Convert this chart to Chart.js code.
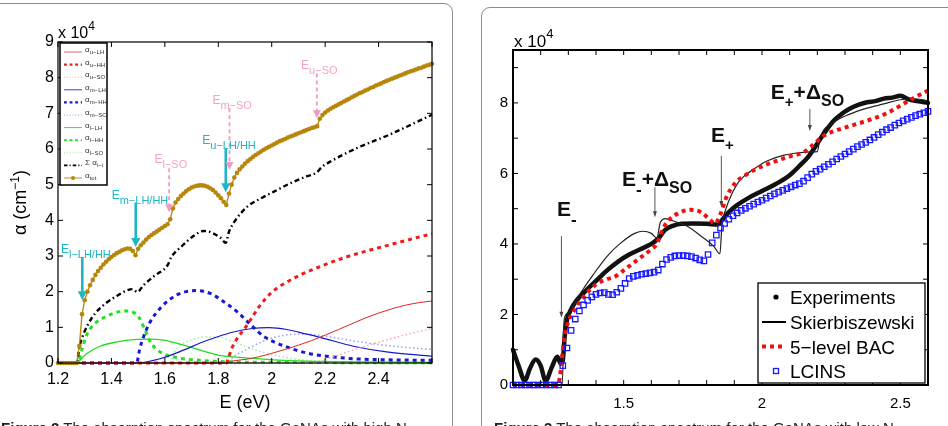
<!DOCTYPE html>
<html>
<head>
<meta charset="utf-8">
<script src="https://cdn.jsdelivr.net/npm/chart.js@4.4.1/dist/chart.umd.min.js"></script>
<style>
body { margin: 0; width: 948px; height: 426px; overflow: hidden; background: #fff; position: relative; font-family: "Liberation Sans", Arial, sans-serif; }
.box { position: absolute; border: 1px solid #8c8c8c; border-radius: 9px; background: #fff; }
#boxL { left: -20px; top: 3px; width: 471px; height: 520px; }
#boxR { left: 481px; top: 7px; width: 500px; height: 520px; }
canvas { position: absolute; top: 0; }
#chartL { left: 0; }
#chartR { left: 474px; }
.cap { position: absolute; top: 419px; font-size: 15px; line-height: 17px; white-space: nowrap; color: #222; }
</style>
</head>
<body>
<div class="box" id="boxL"></div>
<div class="box" id="boxR"></div>
<canvas id="chartL" width="460" height="426"></canvas>
<canvas id="chartR" width="474" height="426"></canvas>
<div class="cap" style="left:1px"><b>Figure 2</b> The absorption spectrum for the GaNAs with high N</div>
<div class="cap" style="left:494px"><b>Figure 3</b> The absorption spectrum for the GaNAs with low N</div>
<script>
const fontFam = '"Liberation Sans", Arial, sans-serif'

// ---------- left panel: absorption (x 10^4 cm^-1) vs E (eV) ----------
const eTot = [
  1.20, 1.21, 1.22, 1.23, 1.24, 1.25, 1.26, 1.27, 1.28, 1.29,
  1.30, 1.31, 1.32, 1.33, 1.34, 1.35, 1.36, 1.37, 1.38, 1.39,
  1.40, 1.41, 1.42, 1.43, 1.44, 1.45, 1.46, 1.47, 1.48, 1.49,
  1.50, 1.51, 1.52, 1.53, 1.54, 1.55, 1.56, 1.57, 1.58, 1.59,
  1.60, 1.61, 1.62, 1.63, 1.64, 1.65, 1.66, 1.67, 1.68, 1.69,
  1.70, 1.71, 1.72, 1.73, 1.74, 1.75, 1.76, 1.77, 1.78, 1.79,
  1.80, 1.81, 1.82, 1.83, 1.84, 1.85, 1.86, 1.87, 1.88, 1.89,
  1.90, 1.91, 1.92, 1.93, 1.94, 1.95, 1.96, 1.97, 1.98, 1.99,
  2.00, 2.01, 2.02, 2.03, 2.04, 2.05, 2.06, 2.07, 2.08, 2.09,
  2.10, 2.11, 2.12, 2.13, 2.14, 2.15, 2.16, 2.17, 2.18, 2.19,
  2.20, 2.21, 2.22, 2.23, 2.24, 2.25, 2.26, 2.27, 2.28, 2.29,
  2.30, 2.31, 2.32, 2.33, 2.34, 2.35, 2.36, 2.37, 2.38, 2.39,
  2.40, 2.41, 2.42, 2.43, 2.44, 2.45, 2.46, 2.47, 2.48, 2.49,
  2.50, 2.51, 2.52, 2.53, 2.54, 2.55, 2.56, 2.57, 2.58, 2.59,
  2.60]
const aTot = [
  0, 0, 0, 0, 0, 0, 0, 0, 0.48, 1.37,
  1.76, 2.0, 2.18, 2.33, 2.47, 2.58, 2.67, 2.76, 2.84, 2.91,
  2.97, 3.03, 3.08, 3.12, 3.16, 3.19, 3.21, 3.2, 3.14, 3.02,
  3.2, 3.3, 3.38, 3.46, 3.53, 3.59, 3.64, 3.69, 3.74, 3.79,
  3.84, 3.89, 4.03, 4.33, 4.5, 4.6, 4.68, 4.75, 4.82, 4.87,
  4.92, 4.95, 4.97, 4.98, 4.98, 4.97, 4.94, 4.9, 4.85, 4.78,
  4.7, 4.62, 4.52, 4.43, 4.75, 5.0, 5.2, 5.33, 5.43, 5.51,
  5.59, 5.66, 5.72, 5.78, 5.83, 5.88, 5.93, 5.98, 6.02, 6.06,
  6.1, 6.14, 6.18, 6.22, 6.25, 6.28, 6.32, 6.35, 6.38, 6.41,
  6.44, 6.47, 6.5, 6.53, 6.56, 6.59, 6.61, 6.64, 6.85, 6.95,
  7.02, 7.08, 7.13, 7.17, 7.21, 7.25, 7.29, 7.33, 7.37, 7.41,
  7.45, 7.49, 7.53, 7.57, 7.6, 7.64, 7.67, 7.71, 7.74, 7.78,
  7.81, 7.84, 7.88, 7.91, 7.94, 7.97, 8.0, 8.03, 8.06, 8.09,
  8.12, 8.15, 8.18, 8.2, 8.23, 8.26, 8.28, 8.31, 8.34, 8.36,
  8.39]

const eSum = [1.20, 1.27, 1.28, 1.29, 1.31, 1.34, 1.38, 1.42, 1.46, 1.48, 1.497, 1.52, 1.56, 1.61, 1.625, 1.66, 1.70, 1.745, 1.77, 1.81, 1.828, 1.84, 1.87, 1.91, 1.96, 2.01, 2.07, 2.13, 2.168, 2.19, 2.22, 2.32, 2.44, 2.60]
const aSum = [0, 0, 0.45, 0.7, 1.05, 1.4, 1.68, 1.88, 2.04, 2.07, 1.99, 2.18, 2.44, 2.74, 2.98, 3.25, 3.52, 3.7, 3.67, 3.5, 3.37, 3.68, 4.06, 4.39, 4.62, 4.81, 5.04, 5.23, 5.34, 5.51, 5.65, 6.03, 6.4, 6.96]

const eULH = [1.20, 1.83, 1.85, 1.90, 1.95, 2.00, 2.05, 2.10, 2.15, 2.20, 2.25, 2.30, 2.35, 2.40, 2.45, 2.50, 2.55, 2.60]
const aULH = [0, 0, 0.05, 0.1, 0.17, 0.27, 0.38, 0.5, 0.63, 0.78, 0.94, 1.1, 1.26, 1.4, 1.52, 1.62, 1.69, 1.74]
const eUHH = [1.20, 1.83, 1.838, 1.85, 1.87, 1.90, 1.92, 1.95, 2.00, 2.05, 2.10, 2.15, 2.20, 2.25, 2.30, 2.35, 2.40, 2.45, 2.50, 2.55, 2.60]
const aUHH = [0, 0, 0.15, 0.4, 0.68, 0.98, 1.2, 1.55, 1.98, 2.24, 2.44, 2.61, 2.76, 2.9, 3.02, 3.13, 3.23, 3.33, 3.43, 3.53, 3.62]
const eUSO = [1.20, 2.17, 2.20, 2.25, 2.30, 2.35, 2.40, 2.45, 2.50, 2.55, 2.60]
const aUSO = [0, 0, 0.1, 0.22, 0.35, 0.47, 0.58, 0.69, 0.79, 0.88, 0.97]

const eMLH = [1.20, 1.49, 1.582, 1.67, 1.732, 1.795, 1.857, 1.92, 1.99, 2.056, 2.131, 2.181, 2.306, 2.43, 2.60]
const aMLH = [0, 0, 0.12, 0.36, 0.56, 0.73, 0.87, 0.96, 0.99, 0.94, 0.81, 0.72, 0.47, 0.31, 0.19]
const eMHH = [1.20, 1.49, 1.497, 1.505, 1.52, 1.545, 1.582, 1.645, 1.72, 1.77, 1.82, 1.87, 1.92, 1.97, 2.056, 2.131, 2.206, 2.306, 2.43, 2.60]
const aMHH = [0, 0, 0.05, 0.36, 0.73, 1.15, 1.53, 1.91, 2.03, 1.95, 1.72, 1.44, 1.08, 0.75, 0.45, 0.28, 0.19, 0.12, 0.09, 0.075]
const eMSO = [1.20, 1.84, 1.85, 1.90, 1.95, 2.00, 2.05, 2.10, 2.15, 2.20, 2.30, 2.40, 2.50, 2.60]
const aMSO = [0, 0, 0.12, 0.35, 0.55, 0.7, 0.78, 0.81, 0.8, 0.75, 0.63, 0.52, 0.44, 0.38]

const eLLH = [1.20, 1.275, 1.282, 1.307, 1.357, 1.42, 1.495, 1.545, 1.595, 1.67, 1.732, 1.795, 1.857, 1.982, 2.13, 2.60]
const aLLH = [0, 0, 0.07, 0.26, 0.47, 0.59, 0.66, 0.67, 0.64, 0.5, 0.36, 0.23, 0.17, 0.1, 0.05, 0.02]
const eLHH = [1.20, 1.275, 1.289, 1.307, 1.332, 1.382, 1.43, 1.46, 1.482, 1.501, 1.526, 1.545, 1.582, 1.645, 1.732, 1.857, 2.0, 2.3, 2.6]
const aLHH = [0, 0, 0.36, 0.78, 1.06, 1.31, 1.44, 1.46, 1.42, 1.3, 0.92, 0.6, 0.31, 0.15, 0.075, 0.03, 0.02, 0.01, 0.01]
const eLSO = [1.20, 1.62, 1.635, 1.66, 1.70, 1.75, 1.80, 1.85, 1.90, 1.95, 2.00, 2.10, 2.20, 2.40, 2.60]
const aLSO = [0, 0, 0.3, 0.5, 0.65, 0.73, 0.73, 0.62, 0.47, 0.34, 0.24, 0.1, 0.05, 0.02, 0.01]

const xLabelsL = [1.2, 1.4, 1.6, 1.8, 2, 2.2, 2.4]
const xTicksL = [1.2, 1.4, 1.6, 1.8, 2, 2.2, 2.4, 2.6]
const yLabelsL = [0, 1, 2, 3, 4, 5, 6, 7, 8, 9]

// ---------- right panel ----------
const eExp = [1.10, 1.12, 1.143, 1.16, 1.182, 1.20, 1.218, 1.24, 1.26, 1.273, 1.28, 1.288, 1.295, 1.31, 1.33, 1.36, 1.40, 1.44, 1.48, 1.52, 1.56, 1.60, 1.625, 1.65, 1.68, 1.71, 1.75, 1.80, 1.84, 1.86, 1.88, 1.91, 1.95, 2.00, 2.05, 2.10, 2.14, 2.17, 2.20, 2.23, 2.26, 2.29, 2.32, 2.35, 2.38, 2.41, 2.44, 2.47, 2.50, 2.53, 2.56, 2.60]
const aExp = [1.0, 0.55, 0.12, 0.45, 0.72, 0.55, 0.12, 0.5, 0.8, 0.6, 0.7, 1.5, 1.85, 2.15, 2.4, 2.65, 2.95, 3.25, 3.5, 3.7, 3.85, 4.0, 4.15, 4.4, 4.52, 4.57, 4.58, 4.57, 4.55, 4.72, 4.9, 5.1, 5.3, 5.5, 5.7, 5.95, 6.25, 6.5, 6.85, 7.2, 7.5, 7.7, 7.85, 7.95, 8.02, 8.05, 8.12, 8.15, 8.2, 8.1, 8.05, 8.0]

const eSkier = [1.10, 1.278, 1.285, 1.30, 1.34, 1.39, 1.44, 1.49, 1.54, 1.57, 1.60, 1.62, 1.632, 1.65, 1.68, 1.73, 1.78, 1.825, 1.848, 1.855, 1.87, 1.89, 1.92, 1.97, 2.02, 2.08, 2.14, 2.18, 2.20, 2.21, 2.26, 2.32, 2.38, 2.44, 2.50, 2.56, 2.60]
const aSkier = [0, 0, 1.85, 2.05, 2.56, 3.13, 3.65, 4.03, 4.3, 4.36, 4.3, 4.17, 4.6, 4.72, 4.65, 4.5, 4.22, 3.94, 3.72, 4.5, 5.0, 5.4, 5.8, 6.12, 6.36, 6.52, 6.59, 6.61, 6.62, 7.0, 7.45, 7.69, 7.85, 7.97, 8.09, 8.11, 8.06]

const eBac = [1.10, 1.26, 1.27, 1.28, 1.29, 1.30, 1.32, 1.35, 1.40, 1.44, 1.47, 1.50, 1.55, 1.60, 1.62, 1.64, 1.66, 1.70, 1.74, 1.78, 1.81, 1.83, 1.85, 1.87, 1.90, 1.95, 2.00, 2.05, 2.10, 2.15, 2.19, 2.22, 2.26, 2.30, 2.35, 2.40, 2.45, 2.50, 2.55, 2.60]
const aBac = [0, 0, 0.25, 1.0, 1.5, 1.8, 2.1, 2.45, 2.85, 3.0, 3.08, 3.25, 3.55, 3.85, 4.0, 4.4, 4.65, 4.88, 4.97, 4.9, 4.7, 4.58, 4.85, 5.3, 5.7, 6.0, 6.2, 6.35, 6.48, 6.6, 6.85, 7.05, 7.2, 7.3, 7.42, 7.55, 7.7, 7.92, 8.15, 8.35]

const eLcins = [
  1.100, 1.115, 1.130, 1.145, 1.160, 1.175, 1.190, 1.205, 1.220, 1.235,
  1.250, 1.265, 1.280, 1.295, 1.310, 1.325, 1.340, 1.355, 1.370, 1.385,
  1.400, 1.415, 1.430, 1.445, 1.460, 1.475, 1.490, 1.505, 1.520, 1.535,
  1.550, 1.565, 1.580, 1.595, 1.610, 1.625, 1.640, 1.655, 1.670, 1.685,
  1.700, 1.715, 1.730, 1.745, 1.760, 1.775, 1.790, 1.805, 1.820, 1.835,
  1.850, 1.865, 1.880, 1.895, 1.910, 1.925, 1.940, 1.955, 1.970, 1.985,
  2.000, 2.015, 2.030, 2.045, 2.060, 2.075, 2.090, 2.105, 2.120, 2.135,
  2.150, 2.165, 2.180, 2.195, 2.210, 2.225, 2.240, 2.255, 2.270, 2.285,
  2.300, 2.315, 2.330, 2.345, 2.360, 2.375, 2.390, 2.405, 2.420, 2.435,
  2.450, 2.465, 2.480, 2.495, 2.510, 2.525, 2.540, 2.555, 2.570, 2.585,
  2.600]
const aLcins = [
  0, 0, 0, 0, 0, 0, 0, 0, 0, 0,
  0, 0, 0.55, 1.05, 1.55, 1.87, 2.1, 2.27, 2.4, 2.5,
  2.57, 2.61, 2.62, 2.57, 2.56, 2.63, 2.74, 2.88, 3.02, 3.08,
  3.11, 3.14, 3.16, 3.18, 3.2, 3.26, 3.43, 3.56, 3.62, 3.66,
  3.67, 3.67, 3.66, 3.64, 3.6, 3.55, 3.52, 3.7, 4.03, 4.25,
  4.45, 4.58, 4.7, 4.8, 4.88, 4.95, 5.01, 5.07, 5.13, 5.19,
  5.24, 5.3, 5.36, 5.42, 5.47, 5.52, 5.57, 5.62, 5.67, 5.71,
  5.78, 5.88, 5.98, 6.06, 6.12, 6.19, 6.26, 6.33, 6.41, 6.48,
  6.55, 6.62, 6.69, 6.76, 6.82, 6.88, 6.95, 7.02, 7.1, 7.17,
  7.24, 7.3, 7.37, 7.43, 7.49, 7.54, 7.59, 7.64, 7.68, 7.72,
  7.76]

const xLabelsR = [1.5, 2, 2.5]
const xTicksR = [1.1, 1.2, 1.3, 1.4, 1.5, 1.6, 1.7, 1.8, 1.9, 2.0, 2.1, 2.2, 2.3, 2.4, 2.5, 2.6]
const yLabelsR = [0, 2, 4, 6, 8]
const yTicksR = [0, 1, 2, 3, 4, 5, 6, 7, 8, 9]

const pts = (e, a) => e.map((v, i) => ({ x: v, y: a[i] }))
const f = (size, bold) => `${bold ? 'bold ' : ''}${size}px ${fontFam}`

function drawRich(ctx, x, y, parts, color, align) {
    ctx.fillStyle = color
    ctx.textAlign = 'left'
    ctx.textBaseline = 'alphabetic'
    let w = 0
    parts.forEach(p => { ctx.font = f(p[1], p[3]); w += ctx.measureText(p[0]).width })
    let cx = align === 'center' ? x - w / 2 : x
    parts.forEach(p => {
        ctx.font = f(p[1], p[3])
        ctx.fillText(p[0], cx, y + (p[2] || 0))
        cx += ctx.measureText(p[0]).width
    })
}

function drawArrow(ctx, x, y1, y2, st) {
    ctx.save()
    ctx.strokeStyle = st.color
    ctx.fillStyle = st.color
    ctx.lineWidth = st.w
    ctx.setLineDash(st.dash || [])
    ctx.beginPath()
    ctx.moveTo(x, y1)
    ctx.lineTo(x, y2 - st.head + 1)
    ctx.stroke()
    ctx.setLineDash([])
    ctx.beginPath()
    ctx.moveTo(x - st.hw, y2 - st.head)
    ctx.lineTo(x + st.hw, y2 - st.head)
    ctx.lineTo(x, y2)
    ctx.closePath()
    ctx.fill()
    ctx.restore()
}

function sampleLine(ctx, ds, x0, x1, y, scale) {
    ctx.save()
    ctx.strokeStyle = ds.borderColor
    ctx.lineWidth = ds.borderWidth * scale
    ctx.setLineDash((ds.borderDash || []).map(d => d * scale))
    ctx.beginPath()
    ctx.moveTo(x0, y)
    ctx.lineTo(x1, y)
    ctx.stroke()
    ctx.restore()
}

// per-chart decorations (frame, inward ticks, arrows, labels, legend)
const decorations = {}

const cyan = { color: '#1fb6c3', w: 2.6, head: 9, hw: 4.5 }
const pink = { color: '#f39ac3', w: 1.8, dash: [4, 3], head: 8, hw: 4 }
const thin = { color: '#444', w: 0.9, head: 6, hw: 2 }

decorations.chartL = {
    frameW: 1.2, tickLen: 5, xTicks: xTicksL, yTicks: yLabelsL,
    arrows: [
        { e: 1.291, from: 2.97, to: 1.76, st: cyan },
        { e: 1.491, from: 4.5, to: 3.25, st: cyan },
        { e: 1.828, from: 6.02, to: 4.79, st: cyan },
        { e: 1.616, from: 5.46, to: 4.23, st: pink },
        { e: 1.842, from: 7.14, to: 5.41, st: pink },
        { e: 2.169, from: 8.12, to: 6.86, st: pink }
    ],
    labels: [
        { e: 1.211, v: 3.09, color: '#1fb6c3', parts: [['E', 12, 0], ['l\u2212LH/HH', 11, 5]] },
        { e: 1.401, v: 4.59, color: '#1fb6c3', parts: [['E', 12, 0], ['m\u2212LH/HH', 11, 5]] },
        { e: 1.74, v: 6.14, color: '#1fb6c3', parts: [['E', 12, 0], ['u\u2212LH/HH', 11, 5]] },
        { e: 1.561, v: 5.6, color: '#f4a3c8', parts: [['E', 12, 0], ['l\u2212SO', 11, 5]] },
        { e: 1.778, v: 7.25, color: '#f4a3c8', parts: [['E', 12, 0], ['m\u2212SO', 11, 5]] },
        { e: 2.11, v: 8.24, color: '#f4a3c8', parts: [['E', 12, 0], ['u\u2212SO', 11, 5]] }
    ],
    extra(ctx, a, chart) {
        // legend box
        const lx = a.left + 2, ly = a.top + 1, lw = 47, lh = 142
        ctx.fillStyle = '#fff'
        ctx.fillRect(lx, ly, lw, lh)
        ctx.strokeStyle = '#000'
        ctx.lineWidth = 1.5
        ctx.strokeRect(lx, ly, lw, lh)
        const items = [
            [3, ['u\u2212LH']], [2, ['u\u2212HH']], [4, ['u\u2212SO']],
            [6, ['m\u2212LH']], [5, ['m\u2212HH']], [7, ['m\u2212SO']],
            [9, ['l\u2212LH']], [8, ['l\u2212HH']], [10, ['l\u2212SO']],
            [1, ['i\u2212i'], '\u03a3 '], [0, ['tot']]
        ]
        items.forEach((it, i) => {
            const ds = chart.data.datasets[it[0]]
            const y = ly + 9 + i * 12.6
            sampleLine(ctx, ds, lx + 4, lx + 22, y, 0.7)
            if (ds.pointRadius) {
                ctx.fillStyle = ds.borderColor
                ctx.beginPath()
                ctx.arc(lx + 13, y, 2, 0, Math.PI * 2)
                ctx.fill()
            }
            drawRich(ctx, lx + 25, y + 1, [[(it[2] || '') + '\u03b1', 8, -1], [it[1][0], 6, 1]], '#333')
        })
        // exponent, axis titles
        drawRich(ctx, a.left, a.top - 4, [['x 10', 16, 0], ['4', 12, -8]], '#000')
        drawRich(ctx, (a.left + a.right) / 2, 408, [['E (eV)', 18, 0]], '#000', 'center')
        ctx.save()
        ctx.translate(26, (a.top + a.bottom) / 2)
        ctx.rotate(-Math.PI / 2)
        drawRich(ctx, 0, 0, [['\u03b1 (cm', 18, 0], ['\u22121', 12, -7], [')', 18, 0]], '#000', 'center')
        ctx.restore()
    }
}

decorations.chartR = {
    frameW: 2, tickLen: 5, xTicks: xTicksR, yTicks: yTicksR,
    arrows: [
        { e: 1.275, from: 4.22, to: 1.91, st: thin },
        { e: 1.613, from: 5.61, to: 4.76, st: thin },
        { e: 1.853, from: 6.5, to: 5.05, st: thin },
        { e: 2.173, from: 7.83, to: 7.2, st: thin }
    ],
    labels: [
        { e: 1.259, v: 4.79, color: '#111', parts: [['E', 21, 0, 1], ['-', 17, 9, 1]] },
        { e: 1.494, v: 5.64, color: '#111', parts: [['E', 21, 0, 1], ['-', 17, 9, 1], ['+\u0394', 21, 0, 1], ['SO', 16, 7, 1]] },
        { e: 1.816, v: 6.9, color: '#111', parts: [['E', 21, 0, 1], ['+', 15, 8, 1]] },
        { e: 2.032, v: 8.12, color: '#111', parts: [['E', 21, 0, 1], ['+', 15, 8, 1], ['+\u0394', 21, 0, 1], ['SO', 16, 7, 1]] }
    ],
    extra(ctx, a, chart) {
        const lx = 284, ly = 283, lw = 167, lh = 100
        ctx.fillStyle = '#fff'
        ctx.fillRect(lx, ly, lw, lh)
        ctx.strokeStyle = '#000'
        ctx.lineWidth = 1.3
        ctx.strokeRect(lx, ly, lw, lh)
        const ds = chart.data.datasets
        const rows = [ly + 14, ly + 39, ly + 63.5, ly + 88]
        ctx.fillStyle = '#000'
        ctx.beginPath()
        ctx.arc(lx + 18, rows[0], 2.6, 0, Math.PI * 2)
        ctx.fill()
        sampleLine(ctx, { borderColor: '#000', borderWidth: 2 }, lx + 4, lx + 28, rows[1], 1)
        sampleLine(ctx, ds[1], lx + 4, lx + 28, rows[2], 1)
        ctx.strokeStyle = ds[0].pointBorderColor
        ctx.lineWidth = 1.3
        ctx.strokeRect(lx + 15.5, rows[3] - 2.5, 5, 5)
        const names = ['Experiments', 'Skierbiszewski', '5\u2212level BAC', 'LCINS']
        names.forEach((n, i) => drawRich(ctx, lx + 32, rows[i] + 7, [[n, 19, 0]], '#000'))
        drawRich(ctx, a.left + 1, a.top - 3, [['x 10', 17, 0], ['4', 13, -9]], '#000')
    }
}

const decorPlugin = {
    id: 'decor',
    afterDatasetsDraw(chart) {
        const d = decorations[chart.canvas.id]
        const ctx = chart.ctx, a = chart.chartArea
        const sx = chart.scales.x, sy = chart.scales.y
        ctx.save()
        ctx.setLineDash([])
        ctx.strokeStyle = '#000'
        ctx.lineWidth = d.frameW
        ctx.strokeRect(a.left, a.top, a.right - a.left, a.bottom - a.top)
        ctx.lineWidth = 1
        ctx.beginPath()
        d.xTicks.forEach(v => {
            const p = sx.getPixelForValue(v)
            ctx.moveTo(p, a.bottom); ctx.lineTo(p, a.bottom - d.tickLen)
            ctx.moveTo(p, a.top); ctx.lineTo(p, a.top + d.tickLen)
        })
        d.yTicks.forEach(v => {
            const p = sy.getPixelForValue(v)
            ctx.moveTo(a.left, p); ctx.lineTo(a.left + d.tickLen, p)
            ctx.moveTo(a.right, p); ctx.lineTo(a.right - d.tickLen, p)
        })
        ctx.stroke()
        d.arrows.forEach(ar => drawArrow(ctx, sx.getPixelForValue(ar.e), sy.getPixelForValue(ar.from), sy.getPixelForValue(ar.to), ar.st))
        d.labels.forEach(l => drawRich(ctx, sx.getPixelForValue(l.e), sy.getPixelForValue(l.v), l.parts, l.color))
        d.extra(ctx, a, chart)
        ctx.restore()
    }
}

function axes(xMin, xMax, yMin, yMax, xLabels, yLabels, xh, yw, fs, xpad, ypad) {
    const fmt = v => String(Math.round(v * 10) / 10)
    return {
        x: {
            type: 'linear', min: xMin, max: xMax,
            afterFit: s => { s.height = xh },
            afterBuildTicks: s => { s.ticks = xLabels.map(v => ({ value: v })) },
            grid: { display: false, drawTicks: false }, border: { display: false },
            ticks: { color: '#000', font: { family: fontFam, size: fs }, padding: xpad, maxRotation: 0, autoSkip: false, callback: fmt }
        },
        y: {
            type: 'linear', min: yMin, max: yMax,
            afterFit: s => { s.width = yw },
            afterBuildTicks: s => { s.ticks = yLabels.map(v => ({ value: v })) },
            grid: { display: false, drawTicks: false }, border: { display: false },
            ticks: { color: '#000', font: { family: fontFam, size: fs }, padding: ypad, autoSkip: false, callback: fmt }
        }
    }
}

const lineDs = (data, color, width, dash, order) => ({
    data, borderColor: color, borderWidth: width, borderDash: dash, order,
    pointRadius: 0, cubicInterpolationMode: 'monotone', fill: false, clip: 3
})

new Chart(document.getElementById('chartL'), {
    type: 'line',
    data: {
        datasets: [
            {
                data: pts(eTot, aTot), borderColor: '#b8860b', borderWidth: 1.3, order: 0,
                pointRadius: 2.3, pointBackgroundColor: '#b8860b', pointBorderWidth: 0, tension: 0, clip: 4
            },
            lineDs(pts(eSum, aSum), '#000', 2.4, [5, 3, 1.5, 3], 1),
            lineDs(pts(eUHH, aUHH), '#ee1c1c', 3, [4, 4], 2),
            lineDs(pts(eULH, aULH), '#e02222', 1, [], 3),
            lineDs(pts(eUSO, aUSO), '#f4a6bf', 1.5, [1.5, 2.5], 4),
            lineDs(pts(eMHH, aMHH), '#1818d8', 3, [4, 4], 5),
            lineDs(pts(eMLH, aMLH), '#1818c8', 1.2, [], 6),
            lineDs(pts(eMSO, aMSO), '#9c9cf0', 1.5, [1.5, 2.5], 7),
            lineDs(pts(eLHH, aLHH), '#22e022', 3, [4, 4], 8),
            lineDs(pts(eLLH, aLLH), '#22dd22', 1.3, [], 9),
            lineDs(pts(eLSO, aLSO), '#a8e8a8', 1.5, [1.5, 2.5], 10)
        ]
    },
    options: {
        responsive: false, animation: false, devicePixelRatio: 1,
        layout: { padding: { left: 0, right: 28, top: 42, bottom: 23 } },
        plugins: { legend: { display: false }, tooltip: { enabled: false } },
        scales: axes(1.2, 2.6, 0, 9, xLabelsL, yLabelsL, 40, 58, 16, 7, 4)
    },
    plugins: [decorPlugin]
})

new Chart(document.getElementById('chartR'), {
    type: 'line',
    data: {
        datasets: [
            {
                data: pts(eLcins, aLcins), showLine: false, order: 0,
                pointStyle: 'rect', pointRadius: 3.8, pointBorderColor: '#1a1aff',
                pointBackgroundColor: 'rgba(0,0,0,0)', pointBorderWidth: 1.3, clip: 5
            },
            lineDs(pts(eBac, aBac), '#ee1111', 4, [4, 4], 1),
            lineDs(pts(eSkier, aSkier), '#222', 1.2, [], 2),
            Object.assign(lineDs(pts(eExp, aExp), '#111', 4.5, [], 3), { borderCapStyle: 'round', borderJoinStyle: 'round' })
        ]
    },
    options: {
        responsive: false, animation: false, devicePixelRatio: 1,
        layout: { padding: { left: 0, right: 20, top: 50, bottom: 11 } },
        plugins: { legend: { display: false }, tooltip: { enabled: false } },
        scales: axes(1.1, 2.6, 0, 9.5, xLabelsR, yLabelsR, 30, 39, 15, 10, 5)
    },
    plugins: [decorPlugin]
})
</script>
</body>
</html>
